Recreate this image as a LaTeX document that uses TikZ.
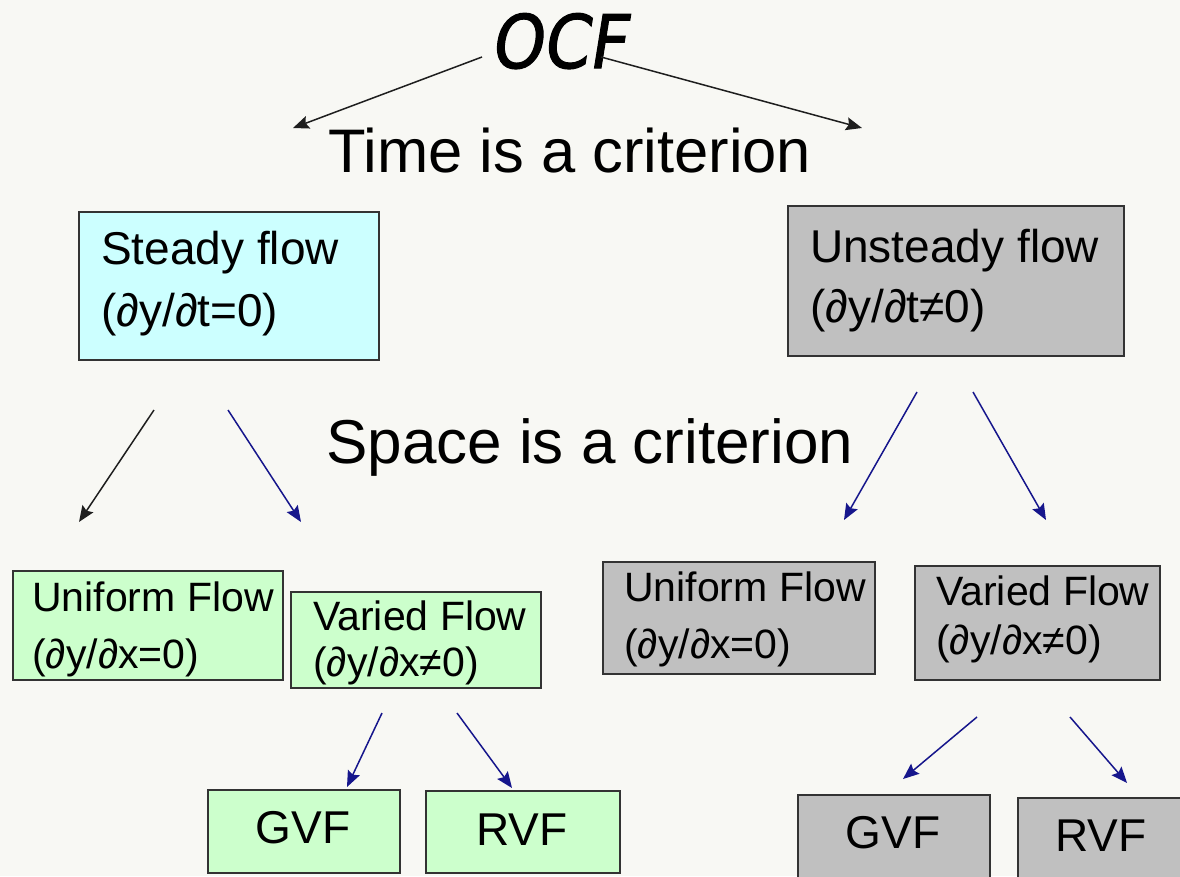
\documentclass[tikz,border=0pt]{standalone}
\usepackage{fontspec}
\setmainfont{Liberation Sans}
\newfontfamily\ocffont[FakeBold=1.6,FakeSlant=0.18]{DejaVu Sans}
\usetikzlibrary{arrows.meta}

\definecolor{paper}{RGB}{248,248,244}
\definecolor{cyanfill}{RGB}{204,255,255}
\definecolor{greenfill}{RGB}{204,255,204}
\definecolor{greyfill}{RGB}{192,192,192}
\definecolor{boxline}{RGB}{51,51,51}
\definecolor{navyarrow}{RGB}{22,22,140}
\definecolor{blackarrow}{RGB}{30,30,30}

\newcommand{\fs}[1]{\fontsize{#1}{#1}\selectfont}

\tikzset{
  box/.style={draw=boxline, line width=2pt, inner sep=0pt, anchor=north west},
  txt/.style={anchor=base west, inner sep=0pt},
  ctxt/.style={anchor=base, inner sep=0pt},
  darrow/.style={draw=blackarrow, line width=1.5pt,
    -{Stealth[length=16pt,width=13pt,inset=2.5pt]}},
  barrow/.style={draw=navyarrow, line width=1.5pt,
    -{Stealth[length=16pt,width=13pt,inset=2.5pt]}},
}

\begin{document}
\begin{tikzpicture}[x=1pt,y=-1pt]
  % page
  \fill[paper] (0,0) rectangle (1180,876);
  \clip (0,0) rectangle (1180,876);
  \useasboundingbox (0,0) rectangle (1180,876);

  % title and criteria
  \node[ctxt, font=\ocffont\fs{66}] (ocf) at (558,68) {\scalebox{1}[1.12]{OCF}};
  \node[txt, font=\fs{61.5}] (time) at (328,172) {Time is a criterion};
  \node[txt, font=\fs{62}] (space) at (326,463) {Space is a criterion};

  % first level: time
  \node[box, fill=cyanfill, minimum width=300pt, minimum height=148pt] (steady) at (78,211) {};
  \node[txt, font=\fs{46}] (steady1) at (101,264) {Steady flow};
  \node[txt, font=\fs{46}] (steady2) at (101,326) {(∂y/∂t=0)};

  \node[box, fill=greyfill, minimum width=336pt, minimum height=150pt] (unsteady) at (787,205) {};
  \node[txt, font=\fs{46}] (unsteady1) at (810,262) {Unsteady flow};
  \node[txt, font=\fs{46}] (unsteady2) at (810,322) {(∂y/∂t≠0)};

  % second level: space
  \node[box, fill=greenfill, minimum width=270pt, minimum height=109pt] (unifL) at (12,570) {};
  \node[txt, font=\fs{41}] (unifL1) at (32,611) {Uniform Flow};
  \node[txt, font=\fs{41}] (unifL2) at (32,668) {(∂y/∂x=0)};

  \node[box, fill=greenfill, minimum width=250pt, minimum height=96pt] (variedL) at (290,591) {};
  \node[txt, font=\fs{41}] (variedL1) at (313,630) {Varied Flow};
  \node[txt, font=\fs{41}] (variedL2) at (313,676) {(∂y/∂x≠0)};

  \node[box, fill=greyfill, minimum width=272pt, minimum height=112pt] (unifR) at (602,561) {};
  \node[txt, font=\fs{41}] (unifR1) at (624,601) {Uniform Flow};
  \node[txt, font=\fs{41}] (unifR2) at (624,658) {(∂y/∂x=0)};

  \node[box, fill=greyfill, minimum width=245pt, minimum height=114pt] (variedR) at (914,565) {};
  \node[txt, font=\fs{41}] (variedR1) at (936,605) {Varied Flow};
  \node[txt, font=\fs{41}] (variedR2) at (936,654) {(∂y/∂x≠0)};

  % third level
  \node[box, fill=greenfill, minimum width=192pt, minimum height=83pt] (gvfL) at (207,789) {};
  \node[ctxt, font=\fs{46}] (gvfL1) at (303,843) {GVF};
  \node[box, fill=greenfill, minimum width=194pt, minimum height=82pt] (rvfL) at (425,790) {};
  \node[ctxt, font=\fs{46}] (rvfL1) at (522,845) {RVF};

  \node[box, fill=greyfill, minimum width=192pt, minimum height=110pt] (gvfR) at (797,794) {};
  \node[ctxt, font=\fs{46}] (gvfR1) at (893,848) {GVF};
  \node[box, fill=greyfill, minimum width=190pt, minimum height=110pt] (rvfR) at (1017,797) {};
  \node[ctxt, font=\fs{46}] (rvfR1) at (1101,851) {RVF};

  % connector ends
  \coordinate (ocfL) at (482,57);   \coordinate (timeL) at (293,128);
  \coordinate (ocfR) at (601,57);   \coordinate (timeR) at (862,128);
  \coordinate (stA) at (154,410);   \coordinate (stAe) at (79,522);
  \coordinate (stB) at (228,410);   \coordinate (stBe) at (301,522);
  \coordinate (unA) at (917,392);   \coordinate (unAe) at (844,520);
  \coordinate (unB) at (973,392);   \coordinate (unBe) at (1046,520);
  \coordinate (vlA) at (382,713);   \coordinate (vlAe) at (347,787);
  \coordinate (vlB) at (457,713);   \coordinate (vlBe) at (512,788);
  \coordinate (vrA) at (977,717);   \coordinate (vrAe) at (903,779);
  \coordinate (vrB) at (1070,717);  \coordinate (vrBe) at (1127,783);

  % connectors
  \draw[darrow] (ocfL) -- (timeL);
  \draw[darrow] (ocfR) -- (timeR);
  \draw[darrow] (stA) -- (stAe);
  \draw[barrow] (stB) -- (stBe);
  \draw[barrow] (unA) -- (unAe);
  \draw[barrow] (unB) -- (unBe);
  \draw[barrow] (vlA) -- (vlAe);
  \draw[barrow] (vlB) -- (vlBe);
  \draw[barrow] (vrA) -- (vrAe);
  \draw[barrow] (vrB) -- (vrBe);
\end{tikzpicture}
\end{document}
